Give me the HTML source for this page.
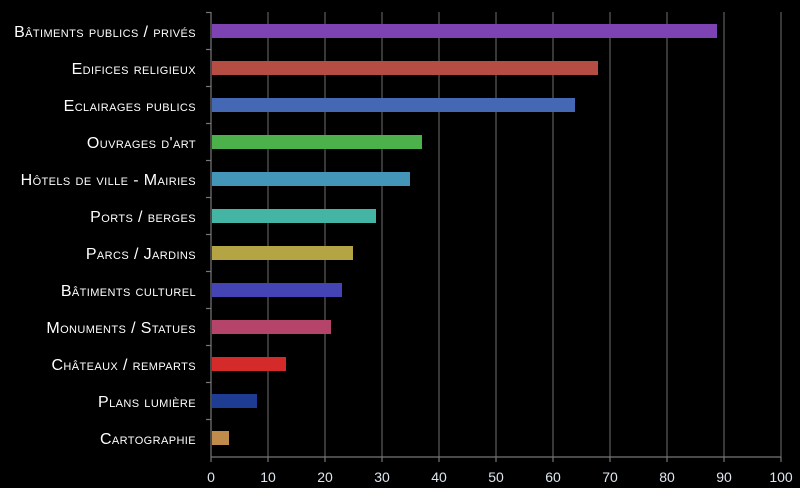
<!DOCTYPE html>
<html><head><meta charset="utf-8"><style>
html,body{margin:0;padding:0;background:#000;}
svg{display:block}
.l{font-family:"Liberation Sans",sans-serif;font-variant:small-caps;font-size:16px;letter-spacing:0.4px;fill:#fff;text-anchor:end}
.t{font-family:"Liberation Sans",sans-serif;font-size:14px;fill:#dde6f0;text-anchor:middle}
</style></head><body>
<svg width="800" height="488" viewBox="0 0 800 488">
<rect width="800" height="488" fill="#000"/>
<g stroke="#4a4a4a" stroke-width="1.5">
<line x1="268" y1="12" x2="268" y2="457"/><line x1="325" y1="12" x2="325" y2="457"/>
<line x1="382" y1="12" x2="382" y2="457"/><line x1="439" y1="12" x2="439" y2="457"/>
<line x1="496" y1="12" x2="496" y2="457"/><line x1="553" y1="12" x2="553" y2="457"/>
<line x1="610" y1="12" x2="610" y2="457"/><line x1="667" y1="12" x2="667" y2="457"/>
<line x1="724" y1="12" x2="724" y2="457"/><line x1="781" y1="12" x2="781" y2="457"/>
</g>
<g stroke="#777" stroke-width="1.2">
<line x1="211" y1="12" x2="211" y2="457"/>
<line x1="211" y1="457" x2="781" y2="457"/>
<line x1="206" y1="12.5" x2="211" y2="12.5"/><line x1="206" y1="49.5" x2="211" y2="49.5"/>
<line x1="206" y1="86.5" x2="211" y2="86.5"/><line x1="206" y1="123.5" x2="211" y2="123.5"/>
<line x1="206" y1="160.5" x2="211" y2="160.5"/><line x1="206" y1="197.5" x2="211" y2="197.5"/>
<line x1="206" y1="234.5" x2="211" y2="234.5"/><line x1="206" y1="271.5" x2="211" y2="271.5"/>
<line x1="206" y1="308.5" x2="211" y2="308.5"/><line x1="206" y1="345.5" x2="211" y2="345.5"/>
<line x1="206" y1="382.5" x2="211" y2="382.5"/><line x1="206" y1="419.5" x2="211" y2="419.5"/>
<line x1="211" y1="457" x2="211" y2="462"/><line x1="268" y1="457" x2="268" y2="462"/>
<line x1="325" y1="457" x2="325" y2="462"/><line x1="382" y1="457" x2="382" y2="462"/>
<line x1="439" y1="457" x2="439" y2="462"/><line x1="496" y1="457" x2="496" y2="462"/>
<line x1="553" y1="457" x2="553" y2="462"/><line x1="610" y1="457" x2="610" y2="462"/>
<line x1="667" y1="457" x2="667" y2="462"/><line x1="724" y1="457" x2="724" y2="462"/>
<line x1="781" y1="457" x2="781" y2="462"/>
</g>
<rect x="212" y="24" width="505" height="14" fill="#7d43b3"/>
<rect x="212" y="61" width="386" height="14" fill="#b64d44"/>
<rect x="212" y="98" width="363" height="14" fill="#4468b4"/>
<rect x="212" y="135" width="210" height="14" fill="#4cb14a"/>
<rect x="212" y="172" width="198" height="14" fill="#4496b8"/>
<rect x="212" y="209" width="164" height="14" fill="#44b4a4"/>
<rect x="212" y="246" width="141" height="14" fill="#b4a444"/>
<rect x="212" y="283" width="130" height="14" fill="#4444b4"/>
<rect x="212" y="320" width="119" height="14" fill="#b4446a"/>
<rect x="212" y="357" width="74" height="14" fill="#d42a2a"/>
<rect x="212" y="394" width="45" height="14" fill="#1e3c92"/>
<rect x="212" y="431" width="17" height="14" fill="#c08c4c"/>
<g class="l">
<text x="196" y="37">Bâtiments publics / privés</text>
<text x="196" y="74">Edifices religieux</text>
<text x="196" y="111">Eclairages publics</text>
<text x="196" y="148">Ouvrages d'art</text>
<text x="196" y="185">Hôtels de ville - Mairies</text>
<text x="196" y="222">Ports / berges</text>
<text x="196" y="259">Parcs / Jardins</text>
<text x="196" y="296">Bâtiments culturel</text>
<text x="196" y="333">Monuments / Statues</text>
<text x="196" y="370">Châteaux / remparts</text>
<text x="196" y="407">Plans lumière</text>
<text x="196" y="444">Cartographie</text>
</g>
<g class="t">
<text x="211" y="482">0</text><text x="268" y="482">10</text><text x="325" y="482">20</text>
<text x="382" y="482">30</text><text x="439" y="482">40</text><text x="496" y="482">50</text>
<text x="553" y="482">60</text><text x="610" y="482">70</text><text x="667" y="482">80</text>
<text x="724" y="482">90</text><text x="781" y="482">100</text>
</g>
</svg>
</body></html>
